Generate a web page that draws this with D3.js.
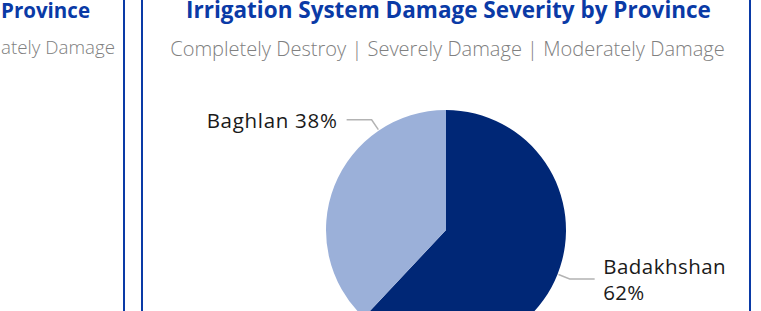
<!DOCTYPE html>
<html>
<head>
<meta charset="utf-8">
<script src="https://cdn.jsdelivr.net/npm/d3@7"></script>
<style>
  html, body { margin: 0; padding: 0; background: #fff; overflow: hidden; }
  svg { display: block; }
</style>
</head>
<body>
<svg id="chart" width="761" height="311"></svg>
<script>
// ---- data ----
const provinces = ["Badakhshan", "Baghlan"];
const shares = [62, 38];
const sliceColors = ["#002776", "#9bb0d9"];
const titleText = "Irrigation System Damage Severity by Province";
const subtitleText = "Completely Destroy | Severely Damage | Moderately Damage";
const leftTitleText = "Province";
const leftSubtitleText = "ately Damage";

// ---- layout ----
const W = 761, H = 311;
const cx = 446, cy = 230, R = 120;
const borderColor = "#0a3aa6";
const svg = d3.select("#chart");

function fitFont(sel, target) {
  const fs = parseFloat(sel.attr("font-size"));
  const w = sel.node().getComputedTextLength();
  sel.attr("font-size", fs * target / w);
}
function fitSpacing(sel, target) {
  const w = sel.node().getComputedTextLength();
  const n = sel.text().length;
  sel.attr("letter-spacing", (target - w) / n);
}

// panel borders
[124, 142, 750].forEach(x => {
  svg.append("line").attr("x1", x).attr("x2", x).attr("y1", 0).attr("y2", H)
    .attr("stroke", borderColor).attr("stroke-width", 2);
});

// left panel (partially visible) texts
const lt = svg.append("text").attr("x", 90).attr("y", 17.5).attr("text-anchor", "end")
  .attr("font-family", "Open Sans, sans-serif").attr("font-weight", 700)
  .attr("font-size", 18).attr("fill", borderColor).text(leftTitleText);
fitFont(lt, 89);
const ls = svg.append("text").attr("x", 115).attr("y", 53.5).attr("text-anchor", "end")
  .attr("font-family", "Open Sans, sans-serif").attr("font-weight", 300)
  .attr("font-size", 18).attr("fill", "#808080").text(leftSubtitleText);
fitFont(ls, 114);

// main title & subtitle
const t = svg.append("text").attr("x", 448.5).attr("y", 17.5).attr("text-anchor", "middle")
  .attr("font-family", "Open Sans, sans-serif").attr("font-weight", 700)
  .attr("font-size", 19.5).attr("fill", borderColor).text(titleText);
fitFont(t, 525);
const st = svg.append("text").attr("x", 447.5).attr("y", 56.3).attr("text-anchor", "middle")
  .attr("font-family", "Open Sans, sans-serif").attr("font-weight", 300)
  .attr("font-size", 19.5).attr("fill", "#808080").text(subtitleText);
fitFont(st, 555);

// pie
const pie = d3.pie().sort(null).value(d => d.v);
const data = provinces.map((p, i) => ({ name: p, v: shares[i], color: sliceColors[i] }));
const arcs = pie(data);
const arc = d3.arc().innerRadius(0).outerRadius(R);
const g = svg.append("g").attr("transform", `translate(${cx},${cy})`);
g.selectAll("path").data(arcs).join("path")
  .attr("d", arc).attr("fill", d => d.data.color);

// labels (label anchor angle in degrees; null = slice middle)
const labelAngle = { "Badakhshan": null, "Baghlan": 326 };
const labelWrap = { "Badakhshan": true, "Baghlan": false };
const labelTargetWidth = { "Badakhshan": 123, "Baghlan": 131 };
const pt = (a, r) => [Math.sin(a) * r, -Math.cos(a) * r];

arcs.forEach(d => {
  const name = d.data.name;
  const a = labelAngle[name] == null ? (d.startAngle + d.endAngle) / 2 : labelAngle[name] * Math.PI / 180;
  const p0 = pt(a, 121), p1 = pt(a, 133);
  const right = Math.sin(a) > 0;
  const p2 = [p1[0] + (right ? 25 : -25), p1[1]];
  g.append("polyline").attr("points", [p0, p1, p2].map(p => p.join(",")).join(" "))
    .attr("fill", "none").attr("stroke", "#b3b3b3").attr("stroke-width", 1.5);
  const lines = labelWrap[name] ? [name, d3.format(".0f")(d.data.v) + "%"] : [name + " " + d.data.v + "%"];
  const tx = p2[0] + (right ? 8.5 : -9);
  lines.forEach((ln, i) => {
    const y = p1[1] + 8.5 + (i - (lines.length - 1) / 2) * 26;
    const tt = g.append("text").attr("x", tx).attr("y", y)
      .attr("text-anchor", right ? "start" : "end")
      .attr("font-family", "Open Sans, sans-serif").attr("font-size", 20.5)
      .attr("fill", "#1a1a1a").text(ln);
    if (i === 0) fitSpacing(tt, labelTargetWidth[name]);
    else tt.attr("letter-spacing", 0.3);
  });
});
</script>
</body>
</html>
